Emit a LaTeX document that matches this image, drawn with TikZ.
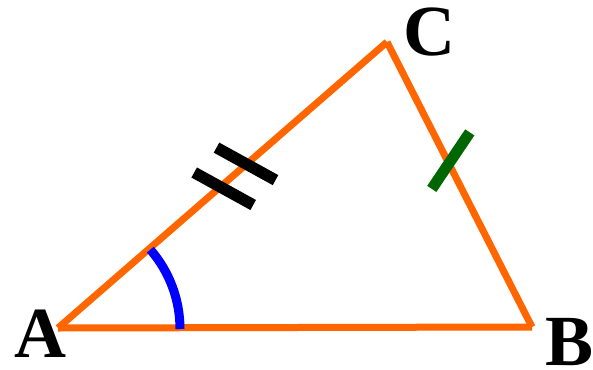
\documentclass[tikz,border=0pt]{standalone}
\usepackage{fontspec}
\setmainfont{Liberation Serif}
\usetikzlibrary{calc}
\definecolor{sideorange}{HTML}{FF6600}
\definecolor{tickgreen}{HTML}{006600}
\definecolor{anglblue}{HTML}{0000FF}
\tikzset{
  side/.style={draw=sideorange, line width=7pt},
  anglemark/.style={draw=anglblue, line width=9pt},
  blacktick/.style={draw=black, line width=11.5pt},
  greentick/.style={draw=tickgreen, line width=11pt},
  vlabel/.style={inner sep=0pt, anchor=base, font=\bfseries\fontsize{72}{72}\selectfont}
}
\begin{document}
\begin{tikzpicture}[x=1pt,y=-1pt]
\useasboundingbox (0,0) rectangle (593,369);
\coordinate (A) at (58,328);
\coordinate (B) at (532,327);
\coordinate (C) at (387,42);
% sides
\draw[side] (A) -- (B);
\draw[side] (B) -- (C);
\draw[side] (C) -- (A);
% angle mark at A
\draw[anglemark] ($(A)+(122,1)$) arc[start angle=0, end angle=-41, radius=121];
% double tick on AC
\coordinate (t1) at ($(A)!0.573!(C)$);
\coordinate (t2) at ($(A)!0.493!(C)$);
\draw[blacktick] ($(t1)+(-30,-16.5)$) -- ($(t1)+(29,16)$);
\draw[blacktick] ($(t2)+(-26,-14.5)$) -- ($(t2)+(33,18)$);
% single tick on CB
\coordinate (g1) at ($(C)!0.426!(B)$);
\draw[greentick] ($(g1)+(-17,25.5)$) -- ($(g1)+(21,-31)$);
% labels
\node[vlabel] (la) at (40,357) {A};
\node[vlabel] (lb) at (570,365) {B};
\node[vlabel] (lc) at (429,56) {C};
\end{tikzpicture}
\end{document}
